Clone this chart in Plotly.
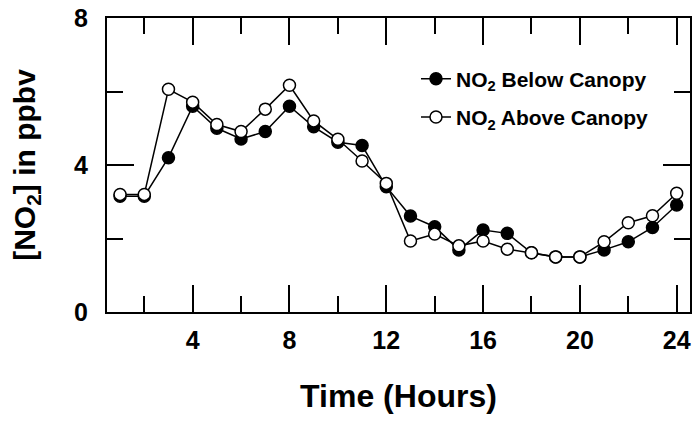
import plotly.graph_objects as go

hours = list(range(1, 25))
below = [3.15, 3.15, 4.2, 5.6, 5.0, 4.71, 4.91, 5.6, 5.04, 4.62, 4.53, 3.41,
         2.61, 2.32, 1.69, 2.23, 2.14, 1.61, 1.5, 1.5, 1.69, 1.91, 2.3, 2.91]
above = [3.2, 3.2, 6.06, 5.71, 5.1, 4.91, 5.52, 6.17, 5.2, 4.7, 4.11, 3.5,
         1.93, 2.12, 1.8, 1.93, 1.71, 1.61, 1.5, 1.5, 1.91, 2.43, 2.62, 3.23]
names = ["NO<sub>2</sub> Below Canopy", "NO<sub>2</sub> Above Canopy"]

FONT = "Liberation Sans, Arial, sans-serif"

fig = go.Figure()
fig.add_trace(go.Scatter(
    x=hours, y=below, mode="lines+markers", name=names[0], legendgroup="a",
    line=dict(color="black", width=1.5),
    marker=dict(size=12, color="black", line=dict(color="black", width=1.5)),
))
fig.add_trace(go.Scatter(
    x=hours, y=above, mode="lines+markers", name=names[1], legendgroup="b",
    line=dict(color="black", width=1.5),
    marker=dict(size=12, color="white", line=dict(color="black", width=1.5)),
))

axis_common = dict(
    showline=True, linecolor="black", linewidth=2, mirror="ticks",
    ticks="inside", ticklen=27, tickwidth=2, tickcolor="black",
    showgrid=False, zeroline=False, automargin=False, ticklabeloverflow="allow",
    tickfont=dict(family=FONT, size=25, color="black", weight="bold"),
    minor=dict(ticks="inside", ticklen=16, tickwidth=2, tickcolor="black", dtick=2, showgrid=False),
)

fig.update_xaxes(
    range=[0.46, 24.55], tick0=0, dtick=4, tickvals=[4, 8, 12, 16, 20, 24],
    title=dict(text="Time (Hours)", font=dict(family=FONT, size=32, color="black", weight="bold"), standoff=32),
    ticklabelstandoff=5,
    **axis_common,
)
fig.update_yaxes(
    range=[0, 8], tick0=0, dtick=4, tickvals=[0, 4, 8],
    title=dict(text="[NO<sub>2</sub>] in ppbv", font=dict(family=FONT, size=30, color="black", weight="bold"), standoff=30),
    ticklabelstandoff=12,
    **axis_common,
)

fig.update_layout(
    width=696, height=423,
    margin=dict(l=107, r=6, t=18, b=111),
    paper_bgcolor="white", plot_bgcolor="white",
    showlegend=True,
    legend=dict(
        x=0.53, y=0.862, xanchor="left", yanchor="top",
        font=dict(family=FONT, size=21, color="black", weight="bold"),
        bgcolor="rgba(0,0,0,0)", traceorder="grouped", tracegroupgap=8,
    ),
)

fig.write_html("out.html", config={"displayModeBar": False},
               post_script="document.body.style.margin='0';document.body.style.overflow='hidden';")
